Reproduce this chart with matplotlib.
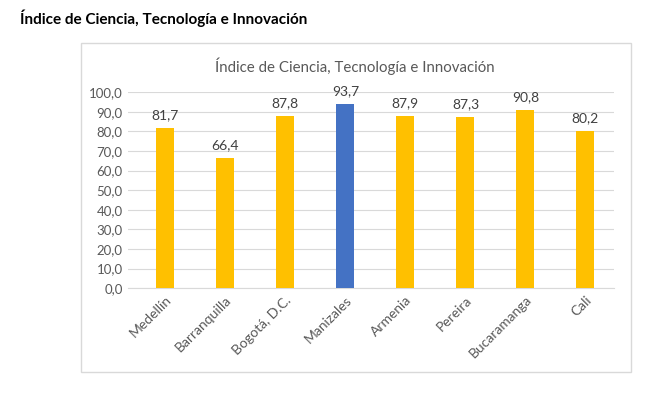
import matplotlib.pyplot as plt
from matplotlib.patches import Rectangle

plt.rcParams['font.family'] = ['Lato', 'DejaVu Sans']

ciudades = ["Medellín", "Barranquilla", "Bogotá, D.C.", "Manizales",
            "Armenia", "Pereira", "Bucaramanga", "Cali"]
indice = [81.7, 66.4, 87.8, 93.7, 87.9, 87.3, 90.8, 80.2]
resaltada = "Manizales"

amarillo = "#FFC000"
azul = "#4472C4"
gris = "#595959"

fig = plt.figure(figsize=(6.57, 3.97), dpi=100)
ax = fig.add_axes([0.195, 0.274, 0.74, 0.494])

colores = [azul if c == resaltada else amarillo for c in ciudades]
x = range(len(ciudades))
barras = ax.bar(x, indice, width=0.3, color=colores, zorder=3)

for b, v in zip(barras, indice):
    ax.annotate(f"{v:.1f}".replace(".", ","), (b.get_x() + b.get_width() / 2, v),
                xytext=(0, 5), textcoords="offset points", ha="center", va="bottom",
                fontsize=10, color="#404040")

ax.set_ylim(0, 100)
ax.set_xlim(-0.62, 7.48)
yt = list(range(0, 101, 10))
ax.set_yticks(yt)
ax.set_yticklabels([f"{t:.1f}".replace(".", ",") for t in yt], fontsize=9.5, color=gris)
ax.set_xticks(list(x))
ax.set_xticklabels(ciudades, rotation=45, ha="right", rotation_mode="anchor",
                   fontsize=10, color=gris)
ax.tick_params(length=0, pad=4)
ax.yaxis.grid(True, color="#D9D9D9", linewidth=0.8, zorder=0)
for s in ["top", "right", "left"]:
    ax.spines[s].set_visible(False)
ax.spines["bottom"].set_color("#D9D9D9")

fig.text(0.54, 0.834, "Índice de Ciencia, Tecnología e Innovación", ha="center",
         va="center", fontsize=10.8, color=gris)
fig.text(0.03, 0.955, "Índice de Ciencia, Tecnología e Innovación", ha="left",
         va="center", fontsize=11, fontweight="bold", color="black")

fig.patches.append(Rectangle((81 / 657, 1 - 372 / 397), 550 / 657, 329 / 397,
                             transform=fig.transFigure, fill=False,
                             edgecolor="#D9D9D9", linewidth=1))

fig.savefig("out.png", dpi=100)
